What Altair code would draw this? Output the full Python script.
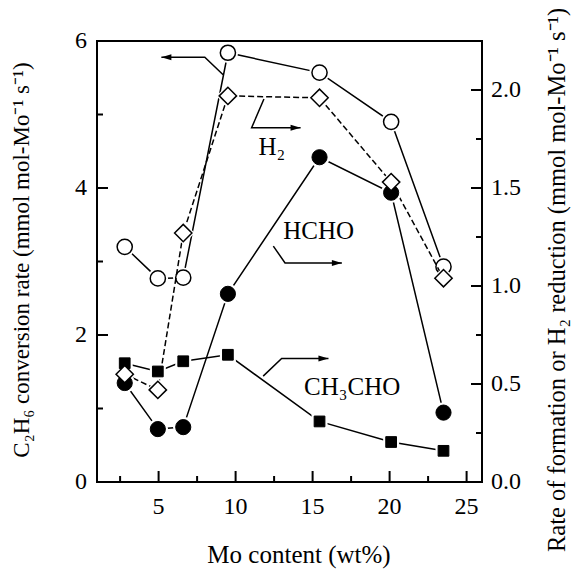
import altair as alt
import pandas as pd

FONT = "Liberation Serif"

# ---- data ----
mo_content = [2.8, 4.95, 6.6, 9.5, 15.45, 20.1, 23.5]
c2h6_rate = [3.20, 2.77, 2.78, 5.84, 5.57, 4.90, 2.93]          # left axis
h2_reduction = [0.55, 0.47, 1.27, 1.97, 1.96, 1.53, 1.04]       # right axis
hcho_rate = [0.505, 0.27, 0.28, 0.96, 1.657, 1.476, 0.354]      # right axis
ch3cho_rate = [0.606, 0.564, 0.616, 0.649, 0.309, 0.204, 0.159] # right axis

x_major = [5, 10, 15, 20, 25]
x_labels = ["5", "10", "15", "20", "25"]
x_minor = [2.5, 7.5, 12.5, 17.5, 22.5]
yl_major = [0, 2, 4, 6]
yl_labels = ["0", "2", "4", "6"]
yl_minor = [1, 3, 5]
yr_major = [0.0, 0.5, 1.0, 1.5, 2.0]
yr_labels = ["0.0", "0.5", "1.0", "1.5", "2.0"]
yr_minor = [0.25, 0.75, 1.25, 1.75]

x_title = "Mo content (wt%)"
yl_title = "C₂H₆ conversion rate (mmol mol-Mo⁻¹ s⁻¹)"
yr_title = "Rate of formation or H₂ reduction (mmol mol-Mo⁻¹ s⁻¹)"

# annotation arrows (x in wt%, y in left-axis units)
arrow_id = ["c2h6"] * 3 + ["h2"] * 3 + ["hcho"] * 3 + ["ch3cho"] * 3
arrow_x = [9.19, 8.00, 5.18, 11.84, 11.04, 14.22, 12.45, 13.21, 16.90, 11.79, 12.99, 16.03]
arrow_y = [5.54, 5.78, 5.78, 5.21, 4.82, 4.82, 3.21, 2.98, 2.98, 1.44, 1.68, 1.68]
arrow_order = [0, 1, 2] * 4
tip_left_x = [5.18]
tip_left_y = [5.78]
tip_right_x = [14.22, 16.90, 16.03]
tip_right_y = [4.82, 2.98, 1.68]

label_text = ["H₂", "HCHO", "CH₃CHO"]
label_x = [12.36, 15.39, 17.57]
label_y = [4.56, 3.42, 1.29]

# ---- frames ----
left_df = pd.DataFrame({"x": mo_content, "y": c2h6_rate})
h2_df = pd.DataFrame({"x": mo_content, "y": h2_reduction})
hcho_df = pd.DataFrame({"x": mo_content, "y": hcho_rate})
ch3_df = pd.DataFrame({"x": mo_content, "y": ch3cho_rate})
arrows_df = pd.DataFrame({"id": arrow_id, "x": arrow_x, "y": arrow_y, "o": arrow_order})
tipl_df = pd.DataFrame({"x": tip_left_x, "y": tip_left_y})
tipr_df = pd.DataFrame({"x": tip_right_x, "y": tip_right_y})
labels_df = pd.DataFrame({"t": label_text, "x": label_x, "y": label_y})
xmaj_df = pd.DataFrame({"x": x_major, "t": x_labels})
xmin_df = pd.DataFrame({"x": x_minor})
ylmaj_df = pd.DataFrame({"y": yl_major, "t": yl_labels})
ylmin_df = pd.DataFrame({"y": yl_minor})
yrmaj_df = pd.DataFrame({"y": yr_major, "t": yr_labels})
yrmin_df = pd.DataFrame({"y": yr_minor})
xt_df = pd.DataFrame({"t": [x_title]})
ylt_df = pd.DataFrame({"t": [yl_title]})
yrt_df = pd.DataFrame({"t": [yr_title]})

W, H = 385, 441

x_scale = alt.Scale(domain=[1, 26], nice=False, zero=False)
yl_scale = alt.Scale(domain=[0, 6], nice=False, zero=False)
yr_scale = alt.Scale(domain=[0, 2.25], nice=False, zero=False)

X = alt.X("x:Q", scale=x_scale, axis=None)
YL = alt.Y("y:Q", scale=yl_scale, axis=None)
YR = alt.Y("y:Q", scale=yr_scale, axis=None)

def txt(df, **kw):
    base = dict(font=FONT, fontSize=24, color="black")
    base.update(kw)
    return alt.Chart(df).mark_text(**base)

# ---- left group (C2H6 conversion + annotations + x axis) ----
l_line = alt.Chart(left_df).mark_line(color="black", strokeWidth=1.5).encode(x=X, y=YL)
l_halo = alt.Chart(left_df).mark_point(shape="circle", size=420, filled=True, fill="white",
                                        strokeWidth=0, opacity=1).encode(x=X, y=YL)
l_mark = alt.Chart(left_df).mark_point(shape="circle", size=230, filled=True, fill="white",
                                        stroke="black", strokeWidth=1.5, opacity=1).encode(x=X, y=YL)
xt_maj = alt.Chart(xmaj_df).mark_rule(color="black", strokeWidth=2).encode(
    x=X, y=alt.value(H), y2=alt.value(H - 11))
xt_min = alt.Chart(xmin_df).mark_rule(color="black", strokeWidth=2).encode(
    x=X, y=alt.value(H), y2=alt.value(H - 6))
xt_lab = txt(xmaj_df, baseline="top", align="center").encode(
    x=X, y=alt.value(H + 13), text="t:N")
ylt_maj = alt.Chart(ylmaj_df).mark_rule(color="black", strokeWidth=2).encode(
    y=YL, x=alt.value(0), x2=alt.value(11))
ylt_min = alt.Chart(ylmin_df).mark_rule(color="black", strokeWidth=2).encode(
    y=YL, x=alt.value(0), x2=alt.value(6))
ylt_lab = txt(ylmaj_df, baseline="middle", align="right").encode(
    y=YL, x=alt.value(-10), text="t:N")
x_title_m = txt(xt_df, baseline="middle", align="center", fontSize=25).encode(
    x=alt.value(202), y=alt.value(514), text="t:N")
yl_title_m = txt(ylt_df, baseline="middle", align="center", angle=270, fontSize=23).encode(
    x=alt.value(-75), y=alt.value(219), text="t:N")

arrows = alt.Chart(arrows_df).mark_line(color="black", strokeWidth=1.5).encode(
    x=X, y=YL, detail="id:N", order="o:Q")
tip_l = alt.Chart(tipl_df).mark_point(shape="M 0 0 L 2 -0.6 L 2 0.6 Z", size=100, filled=True,
                                       fill="black", strokeWidth=0, opacity=1).encode(x=X, y=YL)
tip_r = alt.Chart(tipr_df).mark_point(shape="M 0 0 L -2 -0.6 L -2 0.6 Z", size=100, filled=True,
                                       fill="black", strokeWidth=0, opacity=1).encode(x=X, y=YL)
labels = txt(labels_df, fontSize=25).encode(x=X, y=YL, text="t:N")

left_group = alt.layer(l_line, arrows, tip_l, tip_r, labels, xt_maj, xt_min, xt_lab,
                       ylt_maj, ylt_min, ylt_lab, x_title_m, yl_title_m, l_halo, l_mark)

# ---- right group (H2 reduction, HCHO, CH3CHO) ----
h2_line = alt.Chart(h2_df).mark_line(color="black", strokeWidth=1.5, strokeDash=[6, 3]).encode(x=X, y=YR)
hcho_line = alt.Chart(hcho_df).mark_line(color="black", strokeWidth=1.5).encode(x=X, y=YR)
ch3_line = alt.Chart(ch3_df).mark_line(color="black", strokeWidth=1.5).encode(x=X, y=YR)

ch3_halo = alt.Chart(ch3_df).mark_point(shape="square", size=256, filled=True, fill="white",
                                         strokeWidth=0, opacity=1).encode(x=X, y=YR)
hcho_halo = alt.Chart(hcho_df).mark_point(shape="circle", size=420, filled=True, fill="white",
                                           strokeWidth=0, opacity=1).encode(x=X, y=YR)
h2_halo = alt.Chart(h2_df).mark_point(shape="diamond", size=529, filled=True, fill="white",
                                       strokeWidth=0, opacity=1).encode(x=X, y=YR)

ch3_mark = alt.Chart(ch3_df).mark_point(shape="square", size=115, filled=True, fill="black",
                                         stroke="black", strokeWidth=1, opacity=1).encode(x=X, y=YR)
hcho_mark = alt.Chart(hcho_df).mark_point(shape="circle", size=230, filled=True, fill="black",
                                           stroke="black", strokeWidth=1, opacity=1).encode(x=X, y=YR)
h2_mark = alt.Chart(h2_df).mark_point(shape="diamond", size=300, filled=True, fill="white",
                                       stroke="black", strokeWidth=1.5, opacity=1).encode(x=X, y=YR)

yrt_maj = alt.Chart(yrmaj_df).mark_rule(color="black", strokeWidth=2).encode(
    y=YR, x=alt.value(W), x2=alt.value(W - 11))
yrt_min = alt.Chart(yrmin_df).mark_rule(color="black", strokeWidth=2).encode(
    y=YR, x=alt.value(W), x2=alt.value(W - 6))
yrt_lab = txt(yrmaj_df, baseline="middle", align="left").encode(
    y=YR, x=alt.value(W + 9), text="t:N")
yr_title_m = txt(yrt_df, baseline="middle", align="center", angle=270, fontSize=24.5).encode(
    x=alt.value(460.5), y=alt.value(239), text="t:N")

right_group = alt.layer(h2_line, hcho_line, ch3_line, yrt_maj, yrt_min, yrt_lab, yr_title_m,
                        ch3_halo, hcho_halo, h2_halo, ch3_mark, hcho_mark, h2_mark)

chart = (
    alt.layer(left_group, right_group)
    .resolve_scale(y="independent")
    .properties(
        width=W, height=H,
        autosize=alt.AutoSizeParams(type="none"),
        padding={"left": 97, "top": 41, "right": 96, "bottom": 91},
        background="white",
    )
    .configure_view(stroke="black", strokeWidth=2)
)

chart.save("out.html", embed_options={"renderer": "svg", "actions": False})
